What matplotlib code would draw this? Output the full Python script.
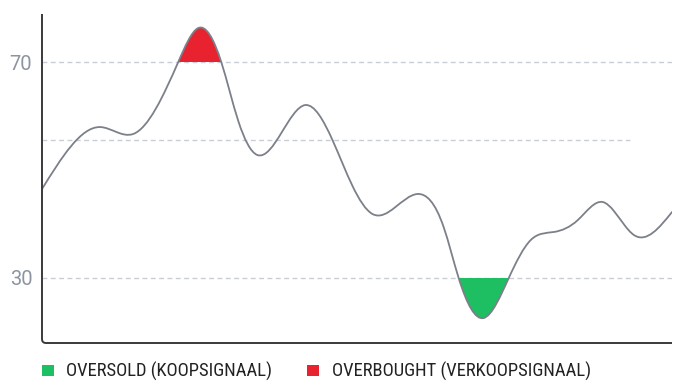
import numpy as np
import matplotlib
matplotlib.use('Agg')
import matplotlib.pyplot as plt
from matplotlib.path import Path
from matplotlib.patches import PathPatch, Rectangle
from matplotlib.transforms import IdentityTransform
from matplotlib import font_manager as fm

# ---- data ----
x_pos = [0.00, 9.21, 14.44, 21.59, 24.76, 28.41, 31.11, 34.13, 41.75, 46.03, 49.21,
         52.38, 59.52, 63.65, 66.03, 70.00, 73.97, 77.46, 81.11, 84.92, 88.89, 90.63,
         93.81, 99.84]
rsi = [46.48, 57.96, 56.67, 70.00, 76.30, 70.00, 59.07, 52.78, 62.04, 55.56, 47.04,
       41.85, 45.56, 39.44, 30.00, 22.59, 30.00, 37.04, 38.52, 40.74, 44.07, 42.41,
       37.96, 42.22]
overbought = 70
oversold = 30
midline = 55.56
tick_values = [30, 70]
tick_labels = ['30', '70']
legend_labels = ['OVERSOLD (KOOPSIGNAAL)', 'OVERBOUGHT (VERKOOPSIGNAAL)']

LINE = '#7b8089'
GREEN = '#1ebf62'
RED = '#e8232f'
GRID = '#c9cdd8'
AXIS = '#3a3a3a'

W, H = 688, 391


def spline_tangents(x, y):
    """Derivatives at knots of a natural cubic spline."""
    x = np.asarray(x, float); y = np.asarray(y, float)
    n = len(x)
    h = np.diff(x); s = np.diff(y) / h
    A = np.zeros((n, n)); b = np.zeros(n)
    A[0, 0] = 1; A[-1, -1] = 1
    for i in range(1, n - 1):
        A[i, i - 1] = h[i - 1]
        A[i, i] = 2 * (h[i - 1] + h[i])
        A[i, i + 1] = h[i]
        b[i] = 6 * (s[i] - s[i - 1])
    M = np.linalg.solve(A, b)
    t = np.zeros(n)
    for i in range(n - 1):
        t[i] = s[i] - h[i] * (2 * M[i] + M[i + 1]) / 6
    t[-1] = s[-1] + h[-1] * (M[-2] + 2 * M[-1]) / 6
    return t


def curve_vertices(x, y):
    t = spline_tangents(x, y)
    verts = [(x[0], y[0])]
    codes = [Path.MOVETO]
    for i in range(len(x) - 1):
        h = x[i + 1] - x[i]
        verts += [(x[i] + h / 3, y[i] + t[i] * h / 3),
                  (x[i + 1] - h / 3, y[i + 1] - t[i + 1] * h / 3),
                  (x[i + 1], y[i + 1])]
        codes += [Path.CURVE4] * 3
    return verts, codes


fig = plt.figure(figsize=(W / 100, H / 100), dpi=100)
ax = fig.add_axes([42 / W, 1 - 343 / H, 630 / W, 329 / H])
ymin, ymax = 17.96, 78.9
xmin, xmax = 0, 99.84
ax.set_xlim(xmin, xmax)
ax.set_ylim(ymin, ymax)

# grid lines
dash = (0, (3.5, 2.5))
ax.axhline(overbought, color=GRID, lw=1.0, ls=dash, zorder=1)
ax.axhline(oversold, color=GRID, lw=1.0, ls=dash, zorder=1)
ax.axhline(midline, xmax=(630 - 42) / 630, color=GRID, lw=1.0, ls=dash, zorder=1)

verts, codes = curve_vertices(x_pos, rsi)

# overbought fill (area under curve clipped above 70)
v_ob = verts + [(x_pos[-1], ymin - 5), (x_pos[0], ymin - 5), (x_pos[0], rsi[0])]
c_ob = codes + [Path.LINETO, Path.LINETO, Path.CLOSEPOLY]
p_ob = PathPatch(Path(v_ob, c_ob), facecolor=RED, edgecolor='none', zorder=2)
ax.add_patch(p_ob)
clip_ob = Rectangle((xmin - 5, overbought), xmax + 10, 50, transform=ax.transData)
p_ob.set_clip_path(clip_ob)

# oversold fill (area above curve clipped below 30)
v_os = verts + [(x_pos[-1], ymax + 5), (x_pos[0], ymax + 5), (x_pos[0], rsi[0])]
c_os = codes + [Path.LINETO, Path.LINETO, Path.CLOSEPOLY]
p_os = PathPatch(Path(v_os, c_os), facecolor=GREEN, edgecolor='none', zorder=2)
ax.add_patch(p_os)
clip_os = Rectangle((xmin - 5, ymin - 50), xmax + 10, oversold - ymin + 50, transform=ax.transData)
p_os.set_clip_path(clip_os)

# the line
ax.add_patch(PathPatch(Path(verts, codes), facecolor='none', edgecolor=LINE, lw=1.3, zorder=3,
                       capstyle='round', joinstyle='round'))

# axes styling: hide spines, draw an L-shaped axis with a rounded corner
for side in ['top', 'right', 'left', 'bottom']:
    ax.spines[side].set_visible(False)
ax.set_xticks([])
ax.set_yticks(tick_values)
ax.set_yticklabels(tick_labels, family=['Roboto', 'DejaVu Sans'], fontsize=14.5, color='#8c95a0')
ax.tick_params(axis='y', length=0, pad=7)
ax.set_facecolor('white')

bb = ax.get_window_extent()
r = 4
ax_path = Path([(bb.x0, bb.y1), (bb.x0, bb.y0 + r), (bb.x0, bb.y0), (bb.x0 + r, bb.y0), (bb.x1, bb.y0)],
               [Path.MOVETO, Path.LINETO, Path.CURVE3, Path.CURVE3, Path.LINETO])
fig.add_artist(PathPatch(ax_path, transform=IdentityTransform(), facecolor='none',
                         edgecolor=AXIS, lw=1.4, zorder=5))

# legend font selection
names = {f.name for f in fm.fontManager.ttflist}
leg_family = 'Roboto'
leg_stretch = 'normal'
for cand in ['Roboto Condensed', 'Liberation Sans Narrow', 'Open Sans Condensed']:
    if cand in names:
        leg_family = cand
        break
else:
    if any(f.name == 'DejaVu Sans' and f.stretch == 'condensed' for f in fm.fontManager.ttflist):
        leg_family = 'DejaVu Sans'
        leg_stretch = 'condensed'

renderer = fig.canvas.get_renderer()
base_y = 1 - 376.5 / H
legend_specs = [(42, 66, 272, GREEN), (307, 332, 591, RED)]
for (sq_x, tx0, tx1, col), lab in zip(legend_specs, legend_labels):
    fig.add_artist(Rectangle((sq_x / W, 1 - 376 / H), 11.5 / W, 11.5 / H,
                             transform=fig.transFigure, facecolor=col, edgecolor='none'))
    t = fig.text(tx0 / W, base_y, lab, family=[leg_family, 'DejaVu Sans'], fontstretch=leg_stretch,
                 fontsize=13, color='#222222', ha='left', va='baseline')
    w = t.get_window_extent(renderer).width
    target = tx1 - tx0
    t.set_fontsize(13 * target / w)

fig.savefig('out.png', dpi=100, facecolor='white')
